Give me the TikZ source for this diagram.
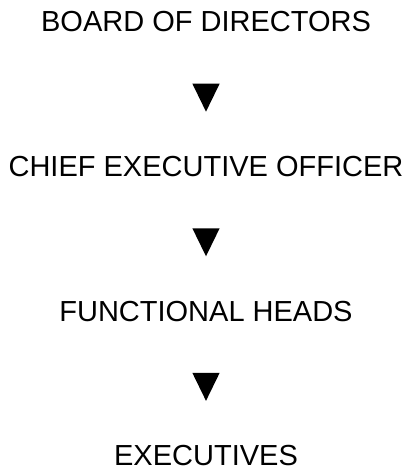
\documentclass[tikz,border=0pt]{standalone}
\usepackage{fontspec}
\setmainfont{Liberation Sans}
\usetikzlibrary{shapes.geometric, positioning}

\begin{document}
\begin{tikzpicture}[
        x=1pt, y=1pt,
        level/.style={rectangle, inner sep=0pt, align=center, font=\fontsize{29}{34}\selectfont},
        pointer/.style={isosceles triangle, isosceles triangle apex angle=52, shape border rotate=-90, fill=black, draw=none, inner sep=0pt, minimum height=28pt}
    ]
        \useasboundingbox (0,0) rectangle (414,-471);
        \node[level] (board) at (206,-22) {BOARD OF DIRECTORS};
        \node[pointer, below=51pt of board] (down1) {};
        \node[level, below=44pt of down1] (ceo) {CHIEF EXECUTIVE OFFICER};
        \node[pointer, below=51pt of ceo] (down2) {};
        \node[level, below=44pt of down2] (heads) {FUNCTIONAL HEADS};
        \node[pointer, below=51pt of heads] (down3) {};
        \node[level, below=44pt of down3] (execs) {EXECUTIVES};
    \end{tikzpicture}
\end{document}
